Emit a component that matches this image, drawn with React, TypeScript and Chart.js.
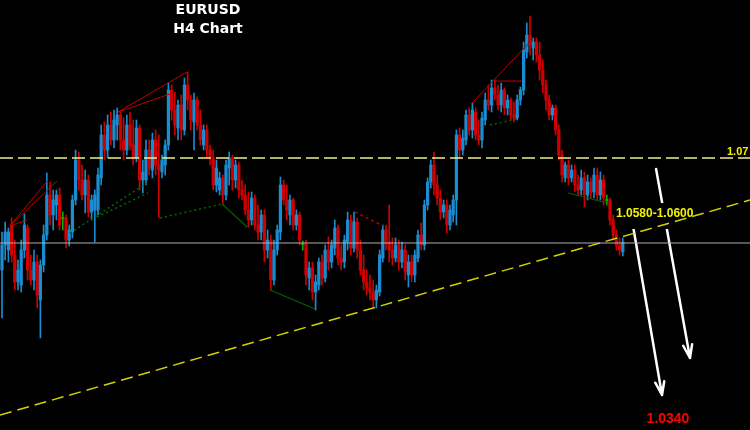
import React, { useEffect, useRef } from "react";
import { Chart, registerables } from "chart.js";

Chart.register(...registerables);

// EURUSD H4 candles (index 0 = oldest)
const openPrices = [
  1.0588, 1.0613, 1.0608, 1.0633, 1.0603, 1.0576, 1.0573, 1.0608, 1.0630, 1.0588,
  1.0578, 1.0596, 1.0558, 1.0593, 1.0623, 1.0663, 1.0643, 1.0653, 1.0663, 1.0640,
  1.0640, 1.0618, 1.0626, 1.0658, 1.0698, 1.0678, 1.0663, 1.0678, 1.0646, 1.0648,
  1.0648, 1.0680, 1.0723, 1.0708, 1.0733, 1.0718, 1.0733, 1.0743, 1.0718, 1.0708,
  1.0733, 1.0713, 1.0700, 1.0730, 1.0678, 1.0678, 1.0708, 1.0688, 1.0718, 1.0693,
  1.0686, 1.0693, 1.0713, 1.0768, 1.0748, 1.0730, 1.0753, 1.0728, 1.0773, 1.0758,
  1.0736, 1.0758, 1.0733, 1.0713, 1.0728, 1.0708, 1.0700, 1.0673, 1.0668, 1.0680,
  1.0663, 1.0690, 1.0700, 1.0678, 1.0693, 1.0668, 1.0663, 1.0648, 1.0638, 1.0660,
  1.0633, 1.0626, 1.0643, 1.0608, 1.0618, 1.0578, 1.0608, 1.0626, 1.0673, 1.0658,
  1.0643, 1.0658, 1.0633, 1.0643, 1.0614, 1.0614, 1.0580, 1.0590, 1.0566, 1.0573,
  1.0596, 1.0580, 1.0608, 1.0596, 1.0610, 1.0630, 1.0600, 1.0596, 1.0616, 1.0638,
  1.0610, 1.0636, 1.0608, 1.0588, 1.0576, 1.0570, 1.0566, 1.0558, 1.0566, 1.0600,
  1.0628, 1.0616, 1.0608, 1.0600, 1.0613, 1.0596, 1.0608, 1.0583, 1.0596, 1.0583,
  1.0600, 1.0623, 1.0613, 1.0653, 1.0676, 1.0693, 1.0673, 1.0660, 1.0646, 1.0653,
  1.0633, 1.0643, 1.0658, 1.0723, 1.0708, 1.0718, 1.0743, 1.0728, 1.0746, 1.0723,
  1.0718, 1.0738, 1.0758, 1.0753, 1.0770, 1.0763, 1.0753, 1.0768, 1.0750, 1.0758,
  1.0743, 1.0740, 1.0758, 1.0768, 1.0806, 1.0823, 1.0810, 1.0816, 1.0803, 1.0788,
  1.0773, 1.0758, 1.0743, 1.0750, 1.0728, 1.0703, 1.0680, 1.0693, 1.0680, 1.0688,
  1.0673, 1.0668, 1.0680, 1.0663, 1.0676, 1.0666, 1.0683, 1.0663, 1.0678, 1.0658,
  1.0658, 1.0638, 1.0623, 1.0613, 1.0606,
];
const highPrices = [
  1.0626, 1.0636, 1.0630, 1.0640, 1.0618, 1.0598, 1.0618, 1.0644, 1.0633, 1.0603,
  1.0608, 1.0603, 1.0598, 1.0633, 1.0685, 1.0676, 1.0668, 1.0668, 1.0670, 1.0646,
  1.0643, 1.0633, 1.0663, 1.0708, 1.0706, 1.0693, 1.0688, 1.0683, 1.0663, 1.0668,
  1.0690, 1.0733, 1.0736, 1.0743, 1.0746, 1.0748, 1.0750, 1.0746, 1.0740, 1.0743,
  1.0746, 1.0738, 1.0738, 1.0733, 1.0698, 1.0718, 1.0718, 1.0725, 1.0728, 1.0723,
  1.0703, 1.0718, 1.0775, 1.0773, 1.0766, 1.0758, 1.0763, 1.0780, 1.0786, 1.0763,
  1.0765, 1.0761, 1.0748, 1.0733, 1.0733, 1.0713, 1.0708, 1.0698, 1.0686, 1.0683,
  1.0698, 1.0706, 1.0703, 1.0698, 1.0696, 1.0678, 1.0673, 1.0666, 1.0666, 1.0663,
  1.0653, 1.0648, 1.0648, 1.0628, 1.0623, 1.0618, 1.0633, 1.0681, 1.0678, 1.0673,
  1.0663, 1.0660, 1.0648, 1.0646, 1.0617, 1.0618, 1.0596, 1.0596, 1.0583, 1.0600,
  1.0603, 1.0613, 1.0621, 1.0618, 1.0638, 1.0633, 1.0613, 1.0623, 1.0646, 1.0643,
  1.0646, 1.0640, 1.0618, 1.0603, 1.0588, 1.0583, 1.0578, 1.0573, 1.0608, 1.0633,
  1.0633, 1.0653, 1.0620, 1.0620, 1.0618, 1.0616, 1.0613, 1.0603, 1.0603, 1.0608,
  1.0628, 1.0635, 1.0658, 1.0680, 1.0698, 1.0706, 1.0683, 1.0668, 1.0658, 1.0658,
  1.0653, 1.0663, 1.0728, 1.0730, 1.0728, 1.0748, 1.0750, 1.0755, 1.0750, 1.0738,
  1.0746, 1.0765, 1.0773, 1.0778, 1.0778, 1.0773, 1.0775, 1.0770, 1.0763, 1.0760,
  1.0756, 1.0763, 1.0771, 1.0816, 1.0835, 1.0842, 1.0820, 1.0820, 1.0816, 1.0798,
  1.0778, 1.0763, 1.0753, 1.0753, 1.0733, 1.0708, 1.0696, 1.0698, 1.0693, 1.0693,
  1.0683, 1.0688, 1.0686, 1.0683, 1.0680, 1.0690, 1.0690, 1.0686, 1.0683, 1.0663,
  1.0660, 1.0643, 1.0628, 1.0620, 1.0620,
];
const lowPrices = [
  1.0540, 1.0598, 1.0596, 1.0596, 1.0568, 1.0568, 1.0566, 1.0600, 1.0578, 1.0573,
  1.0568, 1.0550, 1.0520, 1.0586, 1.0618, 1.0633, 1.0628, 1.0638, 1.0628, 1.0628,
  1.0610, 1.0612, 1.0620, 1.0653, 1.0668, 1.0658, 1.0645, 1.0641, 1.0638, 1.0616,
  1.0643, 1.0673, 1.0698, 1.0700, 1.0713, 1.0710, 1.0718, 1.0708, 1.0698, 1.0703,
  1.0708, 1.0693, 1.0696, 1.0668, 1.0665, 1.0673, 1.0683, 1.0680, 1.0683, 1.0640,
  1.0680, 1.0683, 1.0708, 1.0738, 1.0723, 1.0718, 1.0718, 1.0723, 1.0748, 1.0728,
  1.0708, 1.0728, 1.0713, 1.0708, 1.0701, 1.0693, 1.0668, 1.0666, 1.0663, 1.0653,
  1.0658, 1.0673, 1.0668, 1.0670, 1.0660, 1.0658, 1.0643, 1.0631, 1.0633, 1.0628,
  1.0618, 1.0618, 1.0596, 1.0600, 1.0568, 1.0573, 1.0603, 1.0618, 1.0653, 1.0638,
  1.0633, 1.0628, 1.0628, 1.0613, 1.0608, 1.0573, 1.0568, 1.0558, 1.0548, 1.0568,
  1.0573, 1.0576, 1.0588, 1.0590, 1.0603, 1.0593, 1.0588, 1.0590, 1.0608, 1.0603,
  1.0606, 1.0600, 1.0583, 1.0568, 1.0563, 1.0558, 1.0551, 1.0550, 1.0562, 1.0596,
  1.0608, 1.0596, 1.0593, 1.0596, 1.0588, 1.0590, 1.0578, 1.0571, 1.0576, 1.0576,
  1.0596, 1.0608, 1.0608, 1.0648, 1.0670, 1.0663, 1.0653, 1.0638, 1.0640, 1.0625,
  1.0628, 1.0636, 1.0633, 1.0700, 1.0703, 1.0713, 1.0723, 1.0720, 1.0718, 1.0713,
  1.0710, 1.0733, 1.0748, 1.0746, 1.0758, 1.0748, 1.0746, 1.0743, 1.0743, 1.0738,
  1.0736, 1.0738, 1.0753, 1.0763, 1.0800, 1.0803, 1.0798, 1.0796, 1.0778, 1.0765,
  1.0748, 1.0738, 1.0738, 1.0723, 1.0698, 1.0676, 1.0676, 1.0673, 1.0676, 1.0666,
  1.0663, 1.0663, 1.0651, 1.0658, 1.0660, 1.0660, 1.0658, 1.0658, 1.0653, 1.0653,
  1.0633, 1.0618, 1.0608, 1.0603, 1.0602,
];
const closePrices = [
  1.0613, 1.0626, 1.0626, 1.0603, 1.0576, 1.0588, 1.0608, 1.0633, 1.0588, 1.0578,
  1.0596, 1.0563, 1.0593, 1.0623, 1.0663, 1.0643, 1.0658, 1.0663, 1.0633, 1.0640,
  1.0618, 1.0628, 1.0658, 1.0698, 1.0678, 1.0663, 1.0678, 1.0646, 1.0658, 1.0663,
  1.0683, 1.0723, 1.0708, 1.0733, 1.0718, 1.0738, 1.0743, 1.0718, 1.0708, 1.0733,
  1.0713, 1.0700, 1.0730, 1.0678, 1.0686, 1.0708, 1.0690, 1.0718, 1.0693, 1.0688,
  1.0698, 1.0713, 1.0768, 1.0748, 1.0733, 1.0753, 1.0728, 1.0773, 1.0758, 1.0738,
  1.0758, 1.0733, 1.0718, 1.0728, 1.0708, 1.0700, 1.0673, 1.0690, 1.0680, 1.0663,
  1.0693, 1.0700, 1.0678, 1.0693, 1.0668, 1.0663, 1.0648, 1.0638, 1.0660, 1.0633,
  1.0626, 1.0643, 1.0608, 1.0618, 1.0578, 1.0608, 1.0628, 1.0673, 1.0658, 1.0648,
  1.0658, 1.0633, 1.0643, 1.0618, 1.0614, 1.0583, 1.0590, 1.0566, 1.0576, 1.0596,
  1.0580, 1.0608, 1.0596, 1.0613, 1.0630, 1.0600, 1.0596, 1.0618, 1.0638, 1.0610,
  1.0636, 1.0608, 1.0588, 1.0576, 1.0570, 1.0566, 1.0558, 1.0568, 1.0603, 1.0628,
  1.0616, 1.0608, 1.0600, 1.0613, 1.0596, 1.0608, 1.0586, 1.0596, 1.0583, 1.0603,
  1.0623, 1.0613, 1.0653, 1.0676, 1.0693, 1.0673, 1.0660, 1.0646, 1.0653, 1.0633,
  1.0648, 1.0658, 1.0723, 1.0708, 1.0720, 1.0743, 1.0728, 1.0748, 1.0723, 1.0718,
  1.0740, 1.0758, 1.0753, 1.0770, 1.0763, 1.0753, 1.0768, 1.0750, 1.0758, 1.0743,
  1.0740, 1.0758, 1.0768, 1.0808, 1.0823, 1.0813, 1.0816, 1.0803, 1.0788, 1.0773,
  1.0758, 1.0743, 1.0750, 1.0728, 1.0703, 1.0683, 1.0693, 1.0680, 1.0688, 1.0673,
  1.0668, 1.0680, 1.0663, 1.0676, 1.0666, 1.0683, 1.0663, 1.0678, 1.0660, 1.0658,
  1.0638, 1.0623, 1.0613, 1.0608, 1.0616,
];

// Levels and annotations, in (candle index, price)
const resistanceLevel = 1.07;
const pivotLevel = 1.0615;
const trendStart = [-0.625, 1.0443];
const trendEnd = [233.75, 1.0658];
const redSegments = [
  [2.5, 1.0632, 14.4, 1.0678],
  [2.5, 1.0632, 17.2, 1.0677],
  [2.5, 1.0632, 7.8, 1.0638],
  [36.25, 1.0746, 57.8, 1.0786],
  [36.25, 1.0746, 53.4, 1.0765],
  [146.9, 1.0755, 165.0, 1.0816],
  [153.75, 1.0777, 162.5, 1.0777],
];
const redDottedSegments = [[110.3, 1.0646, 119.1, 1.0632]];
const greenDottedSegments = [
  [21.25, 1.0625, 45.3, 1.0675],
  [29.7, 1.0641, 45.6, 1.0665],
  [49.4, 1.064, 68.75, 1.0654],
  [152.5, 1.0733, 160.9, 1.0739],
];
const greenSolidSegments = [
  [68.75, 1.0654, 76.6, 1.0631],
  [83.75, 1.0568, 97.8, 1.0549],
  [176.9, 1.0665, 189.1, 1.0655],
];
const arrowSegments = [
  [204.4, 1.0689, 215.0, 1.05],
  [197.2, 1.0632, 206.25, 1.0463],
];
const titleLines = ["EURUSD", "H4 Chart"];
const resistanceLabel = "1.07";
const zoneLabel = "1.0580-1.0600";
const targetLabel = "1.0340";

const X_MIN = -0.625;
const X_MAX = 233.75;
const Y_MIN = 1.0428;
const Y_MAX = 1.0858;

const BLUE = "#1a8cd0";
const RED = "#d00000";
const GREEN = "#00b400";

export default function App() {
  const ref = useRef<HTMLCanvasElement>(null);

  useEffect(() => {
    const canvas = ref.current;
    if (!canvas) return;

    const colors = openPrices.map((o, i) =>
      closePrices[i] > o ? BLUE : closePrices[i] < o ? RED : GREEN
    );
    const wickData = highPrices.map((h, i) => ({ x: i, y: [lowPrices[i], h] }));
    const bodyData = openPrices.map((o, i) => {
      const c = closePrices[i];
      const lo = Math.min(o, c);
      const hi = Math.max(o, c);
      return { x: i, y: hi - lo < 0.00008 ? [lo - 0.00005, hi + 0.00005] : [lo, hi] };
    });

    const seg = (s: number[], color: string, width: number, dash: number[] = []) => ({
      type: "line" as const,
      data: [
        { x: s[0], y: s[1] },
        { x: s[2], y: s[3] },
      ],
      borderColor: color,
      borderWidth: width,
      borderDash: dash,
      pointRadius: 0,
      fill: false,
      tension: 0,
      order: 1,
    });

    const overlay = {
      id: "overlay",
      beforeDraw(chart: any) {
        const { ctx, width, height } = chart;
        ctx.save();
        ctx.fillStyle = "#000";
        ctx.fillRect(0, 0, width, height);
        ctx.restore();
      },
      beforeDatasetsDraw(chart: any) {
        const { ctx } = chart;
        const xs = chart.scales.x;
        const ys = chart.scales.y;
        ctx.save();
        ctx.strokeStyle = "#ffffff";
        ctx.lineWidth = 2.5;
        ctx.lineCap = "round";
        arrowSegments.forEach((s) => {
          const x1 = xs.getPixelForValue(s[0]);
          const y1 = ys.getPixelForValue(s[1]);
          const x2 = xs.getPixelForValue(s[2]);
          const y2 = ys.getPixelForValue(s[3]);
          ctx.beginPath();
          ctx.moveTo(x1, y1);
          ctx.lineTo(x2, y2);
          const back = Math.atan2(y1 - y2, x1 - x2);
          [0.33, -0.33].forEach((d) => {
            ctx.moveTo(x2, y2);
            ctx.lineTo(x2 + 14 * Math.cos(back + d), y2 + 14 * Math.sin(back + d));
          });
          ctx.stroke();
        });
        ctx.fillStyle = "#000";
        ctx.fillRect(614, 203, 84, 26);
        ctx.font = 'bold 12px "Liberation Sans", Arial, sans-serif';
        ctx.fillStyle = "#f2f200";
        ctx.textAlign = "left";
        ctx.textBaseline = "alphabetic";
        ctx.fillText(zoneLabel, 616, 217);
        ctx.restore();
      },
      afterDraw(chart: any) {
        const { ctx } = chart;
        ctx.save();
        ctx.fillStyle = "#ffffff";
        ctx.font = 'bold 14px "DejaVu Sans", sans-serif';
        ctx.textAlign = "center";
        ctx.textBaseline = "alphabetic";
        ctx.fillText(titleLines[0], 208, 14);
        ctx.fillText(titleLines[1], 208, 33);
        ctx.font = 'bold 11px "Liberation Sans", Arial, sans-serif';
        ctx.fillStyle = "#f2f200";
        ctx.textAlign = "left";
        ctx.fillText(resistanceLabel, 727, 155);
        ctx.font = 'bold 14px "Liberation Sans", Arial, sans-serif';
        ctx.fillStyle = "#ff0000";
        ctx.textAlign = "center";
        ctx.fillText(targetLabel, 668, 423);
        ctx.restore();
      },
    };

    const chart = new Chart(canvas, {
      type: "bar",
      data: {
        datasets: [
          {
            type: "line",
            data: [
              { x: X_MIN, y: resistanceLevel },
              { x: X_MAX, y: resistanceLevel },
            ],
            borderColor: "#eeee90",
            borderWidth: 1.5,
            borderDash: [13, 5],
            pointRadius: 0,
            fill: false,
            order: 0,
          } as any,
          {
            type: "line",
            data: [
              { x: X_MIN, y: pivotLevel },
              { x: X_MAX, y: pivotLevel },
            ],
            borderColor: "#b0b0b0",
            borderWidth: 1,
            pointRadius: 0,
            fill: false,
            order: 0,
          } as any,
          {
            type: "line",
            data: [
              { x: trendStart[0], y: trendStart[1] },
              { x: trendEnd[0], y: trendEnd[1] },
            ],
            borderColor: "#d2d200",
            borderWidth: 1.5,
            borderDash: [12, 6],
            pointRadius: 0,
            fill: false,
            order: 0,
          } as any,
          ...redSegments.map((s) => seg(s, "#c00000", 1)),
          ...redDottedSegments.map((s) => seg(s, "#b00000", 1.5, [3, 3])),
          ...greenDottedSegments.map((s) => seg(s, "#006a00", 1.5, [2, 3])),
          ...greenSolidSegments.map((s) => seg(s, "#006000", 1.2)),
          {
            type: "bar",
            data: wickData,
            backgroundColor: colors,
            borderWidth: 0,
            barThickness: 1,
            grouped: false,
            order: 10,
          } as any,
          {
            type: "bar",
            data: bodyData,
            backgroundColor: colors,
            borderWidth: 0,
            barThickness: 2.6,
            grouped: false,
            order: 9,
          } as any,
        ],
      },
      options: {
        animation: false,
        responsive: false,
        devicePixelRatio: 1,
        layout: { padding: 0 },
        events: [],
        plugins: {
          legend: { display: false },
          tooltip: { enabled: false },
        },
        scales: {
          x: { type: "linear", min: X_MIN, max: X_MAX, display: false, offset: false },
          y: { type: "linear", min: Y_MIN, max: Y_MAX, display: false },
        },
      } as any,
      plugins: [overlay],
    });

    return () => chart.destroy();
  }, []);

  return (
    <div
      style={{
        position: "absolute",
        left: 0,
        top: 0,
        width: 750,
        height: 430,
        background: "#000",
      }}
    >
      <canvas ref={ref} width={750} height={430} style={{ display: "block" }} />
    </div>
  );
}
